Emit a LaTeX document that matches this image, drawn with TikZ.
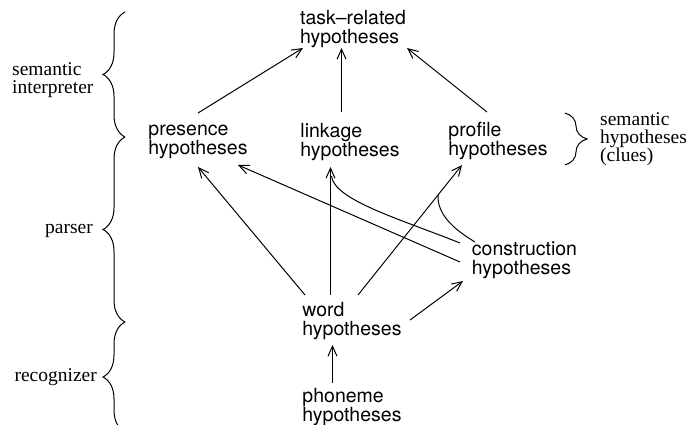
\documentclass[tikz,border=0pt]{standalone}
\usepackage{fontspec}
\setmainfont{TeX Gyre Heros}
\newfontfamily\seriffam{Liberation Serif}
\usetikzlibrary{arrows.meta,decorations.pathreplacing,calc}
\begin{document}
\begin{tikzpicture}[x=1pt,y=-1pt,
  hyp/.style={align=left, inner sep=0pt, font=\fontsize{19.5}{18.5}\selectfont},
  lbl/.style={align=left, inner sep=0pt, font=\seriffam\fontsize{19.5}{18}\selectfont},
  arr/.style={line width=1pt, -{Straight Barb[length=10pt,width=9pt]}},
  ln/.style={line width=1pt},
  brc/.style={line width=1pt, decorate, decoration={brace, amplitude=22pt}}]
\useasboundingbox (0,0) rectangle (696,425);

% hypothesis nodes
\node[hyp] (task) at (353,29) {task--related\\hypotheses};
\node[hyp] (presence) at (198,142) {presence\\hypotheses};
\node[hyp] (linkage) at (350,142) {linkage\\hypotheses};
\node[hyp] (profile) at (498,141) {profile\\hypotheses};
\node[hyp] (construction) at (524.5,260) {construction\\hypotheses};
\node[hyp] (word) at (352,321) {word\\hypotheses};
\node[hyp] (phoneme) at (352,407) {phoneme\\hypotheses};

% side labels
\node[lbl, anchor=west] (seminterp) at (12,80) {semantic\\interpreter};
\node[lbl, anchor=east] (parser) at (93,231) {parser};
\node[lbl, anchor=east] (recognizer) at (97,377) {recognizer};
\node[lbl, anchor=west] (clues) at (600,139) {semantic\\hypotheses\\(clues)};

% braces
\coordinate (b0) at (125,12);
\coordinate (b1) at (125,137);
\coordinate (b2) at (125,322);
\coordinate (b3) at (125,432);
\draw[brc] (b1) -- (b0);
\draw[brc] (b2) -- (b1);
\draw[brc] (b3) -- (b2);
\coordinate (r0) at (565,113);
\coordinate (r1) at (565,165);
\draw[brc] (r0) -- (r1);

% arrows to task-related
\draw[arr] ($(presence)+(0,-29)$) -- ($(task)+(-50,19)$);
\draw[arr] ($(linkage)+(-8.5,-30)$) -- ($(task)+(-11.5,19)$);
\draw[arr] ($(profile)+(-11,-29)$) -- ($(task)+(54,19)$);

% arrows from word
\draw[arr] ($(word)+(-47,-26)$) -- ($(presence)+(0,25)$);
\draw[arr] ($(word)+(-21.5,-26)$) -- ($(linkage)+(-19.5,25)$);
\draw[arr] ($(word)+(6,-26)$) -- ($(profile)+(-36,24)$);
\draw[arr] ($(word)+(58,-1)$) -- ($(construction)+(-61.5,21)$);

% arrows from construction
\draw[arr] ($(construction)+(-64.5,2)$) -- ($(presence)+(40,23)$);
\draw[ln] ($(construction)+(-64.5,-17)$) .. controls ($(construction)+(-124.5,-41)$) and ($(linkage)+(-16,58)$) .. ($(linkage)+(-18.5,34)$);
\draw[ln] ($(construction)+(-49.5,-18)$) .. controls ($(construction)+(-69.5,-30)$) and ($(profile)+(-61,74)$) .. ($(profile)+(-60,54)$);

% phoneme to word
\draw[arr] ($(phoneme)+(-19.5,-24)$) -- ($(word)+(-19.5,24)$);
\end{tikzpicture}
\end{document}
